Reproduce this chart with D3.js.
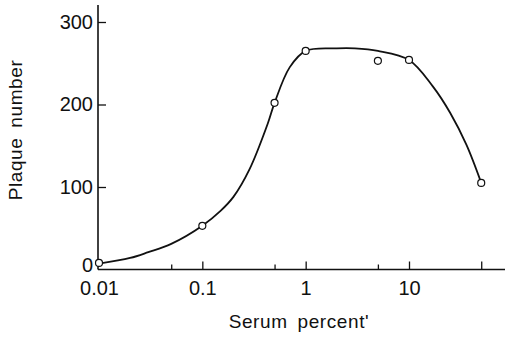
<!DOCTYPE html>
<html>
<head>
  <script src="https://d3js.org/d3.v7.min.js"></script>
  <style>
    body { margin: 0; background: #fff; }
    text { font-family: "Liberation Sans", Arial, sans-serif; fill: #111; }
  </style>
</head>
<body>
  <div id="chart"></div>
  <script>
    // measured points
    var serum = [0.01, 0.1, 0.5, 1, 5, 10, 50];
    var plaques = [8, 53, 202, 265, 253, 254, 105];

    // hand-drawn fitted curve
    var curveSerum = [0.01, 0.02, 0.03, 0.05, 0.1, 0.15, 0.2, 0.285, 0.43, 0.5, 0.7, 1, 2, 3, 5, 10, 17, 25, 36, 50];
    var curvePlaques = [7, 14, 21, 31, 53, 71, 88, 121, 177, 202, 245, 265, 268, 268, 265, 254, 222, 190, 151, 105];

    var xTicks = [0.01, 0.1, 1, 10];
    var xMinorTicks = [0.05, 0.5, 5];
    var xLongTicks = [50];
    var yTicks = [0, 100, 200, 300];

    var width = 505, height = 339;

    var svg = d3.select("#chart").append("svg")
      .attr("width", width)
      .attr("height", height);

    var x = d3.scaleLog().domain([0.01, 10]).range([99, 409]);
    var y = d3.scaleLinear().domain([0, 300]).range([269.5, 22]);

    // axis lines
    svg.append("line")
      .attr("x1", x(0.01) - 1).attr("x2", width)
      .attr("y1", y(0)).attr("y2", y(0))
      .attr("stroke", "#111").attr("stroke-width", 1.6);
    svg.append("line")
      .attr("x1", x(0.01) - 1).attr("x2", x(0.01) - 1)
      .attr("y1", y(0)).attr("y2", 5)
      .attr("stroke", "#111").attr("stroke-width", 1.6);

    // y axis
    var yAxis = svg.append("g")
      .attr("transform", "translate(" + (x(0.01) - 1) + ",0)")
      .call(d3.axisLeft(y).tickValues(yTicks).tickSize(-8).tickPadding(5).tickFormat(d3.format("d")));
    yAxis.select(".domain").remove();
    yAxis.selectAll("line").attr("stroke", "#111").attr("stroke-width", 1.3);
    yAxis.selectAll(".tick").filter(function(d) { return d === 0; }).select("line").remove();
    yAxis.selectAll(".tick").filter(function(d) { return d === 0; }).select("text").attr("dy", "0.1em");
    yAxis.selectAll("text").style("font-size", "20px").attr("fill", "#111");

    // x axis, labelled ticks
    var xAxis = svg.append("g")
      .attr("transform", "translate(0," + y(0) + ")")
      .call(d3.axisBottom(x).tickValues(xTicks).tickSize(-8).tickPadding(11).tickFormat(function(d) { return d; }));
    xAxis.select(".domain").remove();
    xAxis.selectAll("line").attr("stroke", "#111").attr("stroke-width", 1.3);
    xAxis.selectAll(".tick").filter(function(d) { return d === 0.01; }).select("line").remove();
    xAxis.selectAll("text").style("font-size", "20px").attr("fill", "#111");

    // x axis, unlabelled ticks
    var xMinor = svg.append("g")
      .attr("transform", "translate(0," + y(0) + ")")
      .call(d3.axisBottom(x).tickValues(xMinorTicks).tickSize(-5).tickFormat(""));
    xMinor.select(".domain").remove();
    xMinor.selectAll("line").attr("stroke", "#111").attr("stroke-width", 1.3);

    var xLong = svg.append("g")
      .attr("transform", "translate(0," + y(0) + ")")
      .call(d3.axisBottom(x).tickValues(xLongTicks).tickSize(-8).tickFormat(""));
    xLong.select(".domain").remove();
    xLong.selectAll("line").attr("stroke", "#111").attr("stroke-width", 1.3);

    // curve
    var line = d3.line()
      .x(function(d, i) { return x(curveSerum[i]); })
      .y(function(d, i) { return y(curvePlaques[i]); })
      .curve(d3.curveCatmullRom.alpha(0.5));

    svg.append("path")
      .datum(curveSerum)
      .attr("d", line)
      .attr("fill", "none")
      .attr("stroke", "#111")
      .attr("stroke-width", 1.8);

    // points
    svg.selectAll("circle")
      .data(serum)
      .enter()
      .append("circle")
      .attr("cx", function(d) { return x(d); })
      .attr("cy", function(d, i) { return y(plaques[i]); })
      .attr("r", 3.5)
      .attr("fill", "#fff")
      .attr("stroke", "#111")
      .attr("stroke-width", 1.2);

    // axis titles
    svg.append("text")
      .attr("x", 299)
      .attr("y", 328)
      .attr("text-anchor", "middle")
      .style("font-size", "19px")
      .style("letter-spacing", "0.6px")
      .style("word-spacing", "4px")
      .text("Serum percent'");

    svg.append("text")
      .attr("transform", "rotate(-90)")
      .attr("x", -130)
      .attr("y", 22)
      .attr("text-anchor", "middle")
      .style("font-size", "19px")
      .style("letter-spacing", "0.6px")
      .style("word-spacing", "4px")
      .text("Plaque number");
  </script>
</body>
</html>
